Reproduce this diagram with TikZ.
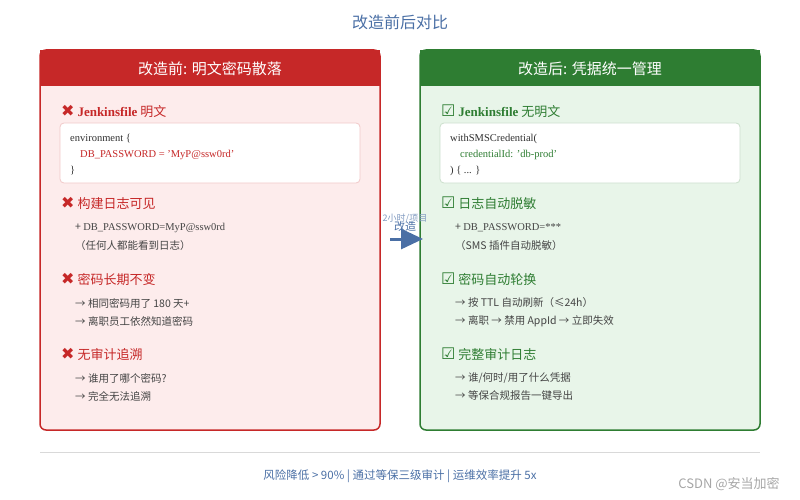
\documentclass[tikz,border=0pt]{standalone}
\usepackage{fontspec}
\setmainfont{Liberation Serif}
\newfontfamily\cjk{Noto Sans CJK SC}
\newfontfamily\sym{DejaVu Sans}
\usetikzlibrary{arrows.meta}
\definecolor{badred}{HTML}{C62828}
\definecolor{badbg}{HTML}{FDECEC}
\definecolor{goodgreen}{HTML}{2E7D32}
\definecolor{goodbg}{HTML}{E8F5E9}
\definecolor{titleblue}{HTML}{4A6FA5}
\definecolor{bodygray}{HTML}{444444}
\tikzset{
  panel/.style={draw=#1, line width=1.5pt, rounded corners=6pt},
  headtext/.style={text=white, font=\cjk\fontsize{15}{18}\selectfont},
  itemhead/.style={anchor=west, text=#1, font=\cjk\fontsize{13}{16}\selectfont, inner sep=0pt},
  subline/.style={anchor=west, text=bodygray, font=\cjk\fontsize{10.5}{13}\selectfont, inner sep=0pt},
  codeline/.style={anchor=west, font=\fontsize{10.5}{13}\selectfont, inner sep=0pt},
  codebox/.style={draw=#1, fill=white, rounded corners=4pt, line width=0.8pt}
}
\newcommand{\xmark}{{\sym\bfseries\fontsize{16}{16}\selectfont ✖}}
\newcommand{\cmark}{{\sym\fontsize{16}{16}\selectfont ☑}}
\begin{document}
\begin{tikzpicture}[x=1pt,y=-1pt]
\useasboundingbox (0,0) rectangle (800,500);
\node (title) at (400,22) {\cjk\fontsize{16}{19}\selectfont\color{titleblue}改造前后对比};

% left panel
\fill[badbg, rounded corners=6pt] (40,50) rectangle (380,430);
\fill[badred] (40,50) rectangle (380,86);
\draw[panel=badred] (40,50) rectangle (380,430);
\node[headtext] (lhead) at (210,69) {改造前: 明文密码散落};
\node[itemhead=badred] (l1) at (61,111) {\xmark\ {\rmfamily\bfseries Jenkinsfile} 明文};
\draw[codebox=badred!25] (60,123) rectangle (360,183);
\node[codeline, text=bodygray!70!black] (lc1) at (70,139) {environment \{};
\node[codeline, text=badred] (lc2) at (80,155) {DB\_PASSWORD = 'MyP@ssw0rd'};
\node[codeline, text=bodygray!70!black] (lc3) at (70,171) {\}};
\node[itemhead=badred] (l2) at (61,203) {\xmark\ 构建日志可见};
\node[subline] (l2a) at (75,228) {+ \rmfamily DB\_PASSWORD=MyP@ssw0rd};
\node[subline] (l2b) at (75,246) {（任何人都能看到日志）};
\node[itemhead=badred] (l3) at (61,279) {\xmark\ 密码长期不变};
\node[subline] (l3a) at (75,303) {→ 相同密码用了 180 天+};
\node[subline] (l3b) at (75,321) {→ 离职员工依然知道密码};
\node[itemhead=badred] (l4) at (61,354) {\xmark\ 无审计追溯};
\node[subline] (l4a) at (75,378) {→ 谁用了哪个密码?};
\node[subline] (l4b) at (75,396) {→ 完全无法追溯};

% right panel
\fill[goodbg, rounded corners=6pt] (420,50) rectangle (760,430);
\fill[goodgreen] (420,50) rectangle (760,86);
\draw[panel=goodgreen] (420,50) rectangle (760,430);
\node[headtext] (rhead) at (590,69) {改造后: 凭据统一管理};
\node[itemhead=goodgreen] (r1) at (441,111) {\cmark\ {\rmfamily\bfseries Jenkinsfile} 无明文};
\draw[codebox=goodgreen!25] (440,123) rectangle (740,183);
\node[codeline, text=bodygray!70!black] (rc1) at (450,139) {withSMSCredential(};
\node[codeline, text=goodgreen] (rc2) at (460,155) {credentialId: 'db-prod'};
\node[codeline, text=bodygray!70!black] (rc3) at (450,171) {) \{ ... \}};
\node[itemhead=goodgreen] (r2) at (441,203) {\cmark\ 日志自动脱敏};
\node[subline] (r2a) at (455,228) {+ \rmfamily DB\_PASSWORD=***};
\node[subline] (r2b) at (455,246) {（SMS 插件自动脱敏）};
\node[itemhead=goodgreen] (r3) at (441,279) {\cmark\ 密码自动轮换};
\node[subline] (r3a) at (455,303) {→ 按 TTL 自动刷新（≤24h）};
\node[subline] (r3b) at (455,321) {→ 离职 → 禁用 AppId → 立即失效};
\node[itemhead=goodgreen] (r4) at (441,354) {\cmark\ 完整审计日志};
\node[subline] (r4a) at (455,378) {→ 谁/何时/用了什么凭据};
\node[subline] (r4b) at (455,396) {→ 等保合规报告一键导出};

% arrow between panels
\coordinate (astart) at (390,239);
\coordinate (aend) at (423,239);
\draw[titleblue, line width=3pt, -{Triangle[length=22pt,width=20pt]}] (astart) -- (aend);
\node[text=titleblue, font=\cjk\fontsize{11}{12}\selectfont] (alab) at (405,226) {改造};
\node[text=titleblue!70, font=\cjk\fontsize{9}{11}\selectfont] (atime) at (405,219) {2小时/项目};

% footer
\draw[gray!30, line width=0.8pt] (40,452) -- (760,452);
\node[text=titleblue, font=\cjk\fontsize{11.5}{13}\selectfont] (foot) at (400,476) {风险降低 > 90\% | 通过等保三级审计 | 运维效率提升 5x};
\node[text=gray!70, font=\cjk\fontsize{13}{14}\selectfont] (wm) at (729,484) {CSDN @安当加密};
\end{tikzpicture}
\end{document}
